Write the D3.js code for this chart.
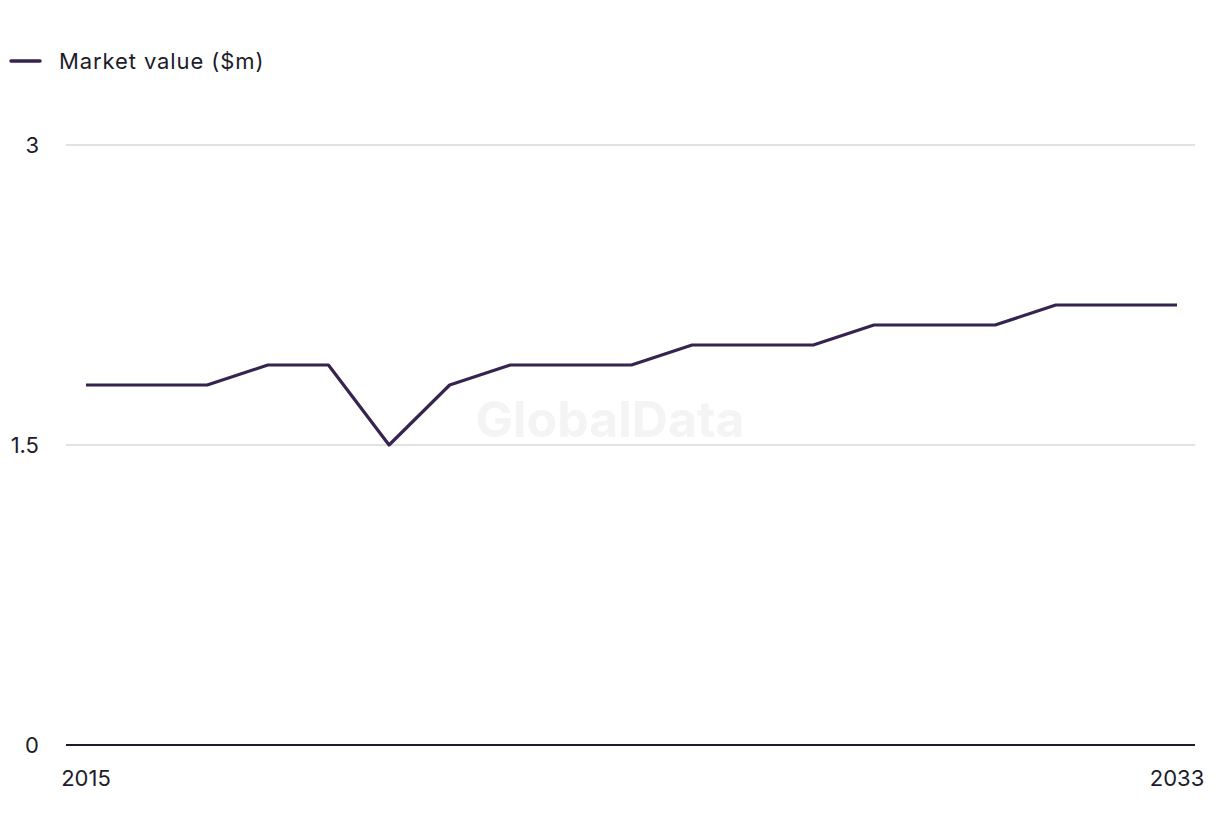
<!DOCTYPE html>
<html>
<head>
<meta charset="utf-8">
<script src="https://cdn.jsdelivr.net/npm/d3@7"></script>
<style>
  body { margin: 0; background: #fff; }
  svg text { font-family: "Inter", "Liberation Sans", sans-serif; }
</style>
</head>
<body>
<svg id="chart" width="1220" height="836"></svg>
<script>
var years = [2015, 2016, 2017, 2018, 2019, 2020, 2021, 2022, 2023, 2024,
             2025, 2026, 2027, 2028, 2029, 2030, 2031, 2032, 2033];
var values = [1.8, 1.8, 1.8, 1.9, 1.9, 1.5, 1.8, 1.9, 1.9, 1.9,
              2.0, 2.0, 2.0, 2.1, 2.1, 2.1, 2.2, 2.2, 2.2];
var yTicks = [0, 1.5, 3];
var xTickLabels = [2015, 2033];
var seriesName = "Market value ($m)";

var svg = d3.select("#chart");
var lineColor = "#36234f";
var textColor = "#1c1c2a";

var x = d3.scaleLinear().domain([2015, 2033]).range([86, 1177]);
var y = d3.scaleLinear().domain([0, 3]).range([745, 145]);

// watermark
svg.append("text")
    .attr("x", 610)
    .attr("y", 437)
    .attr("text-anchor", "middle")
    .style("font-size", "50px")
    .style("font-weight", "bold")
    .style("fill", "#f4f4f4")
    .text("GlobalData");

// gridlines
svg.append("g")
    .selectAll("line")
    .data(yTicks.filter(function (d) { return d > 0; }))
    .enter().append("line")
    .attr("x1", 66)
    .attr("x2", 1195)
    .attr("y1", function (d) { return y(d); })
    .attr("y2", function (d) { return y(d); })
    .attr("stroke", "#d9d9d9")
    .attr("stroke-width", 1.5);

// y axis labels
svg.append("g")
    .selectAll("text")
    .data(yTicks)
    .enter().append("text")
    .attr("x", 39)
    .attr("y", function (d) { return y(d); })
    .attr("dy", "0.35em")
    .attr("text-anchor", "end")
    .style("font-size", "22px")
    .style("fill", textColor)
    .text(function (d) { return d; });

// baseline
svg.append("line")
    .attr("x1", 66)
    .attr("x2", 1195)
    .attr("y1", y(0))
    .attr("y2", y(0))
    .attr("stroke", textColor)
    .attr("stroke-width", 2);

// x labels
svg.append("g")
    .selectAll("text")
    .data(xTickLabels)
    .enter().append("text")
    .attr("x", function (d) { return x(d); })
    .attr("y", 786)
    .attr("text-anchor", "middle")
    .style("font-size", "22px")
    .style("fill", textColor)
    .text(function (d) { return d; });

// line
var line = d3.line()
    .x(function (d, i) { return x(years[i]); })
    .y(function (d) { return y(d); });

svg.append("path")
    .datum(values)
    .attr("d", line)
    .attr("fill", "none")
    .attr("stroke", lineColor)
    .attr("stroke-width", 3.2)
    .attr("stroke-linejoin", "round");

// legend
svg.append("line")
    .attr("x1", 11)
    .attr("x2", 40)
    .attr("y1", 61)
    .attr("y2", 61)
    .attr("stroke", lineColor)
    .attr("stroke-width", 3.5)
    .attr("stroke-linecap", "round");

svg.append("text")
    .attr("x", 59)
    .attr("y", 61)
    .attr("dy", "0.35em")
    .style("font-size", "22px")
    .style("letter-spacing", "0.9px")
    .style("fill", textColor)
    .text(seriesName);
</script>
</body>
</html>
